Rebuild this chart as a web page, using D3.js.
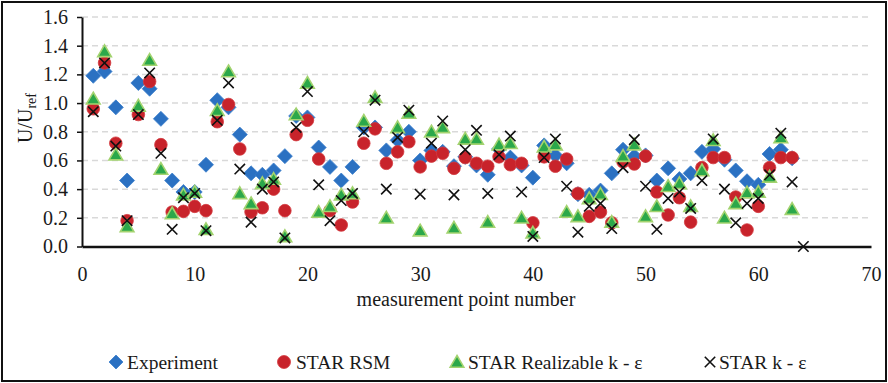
<!DOCTYPE html>
<html>
<head>
<meta charset="utf-8">
<script src="https://cdn.jsdelivr.net/npm/d3@7"></script>
<style>
  html, body { margin: 0; padding: 0; background: #fff; }
  svg { display: block; }
  svg text { font-family: "Liberation Serif", Tinos, "Times New Roman", Times, "DejaVu Serif", serif !important; fill: #1a1a1a; }
</style>
</head>
<body>
<svg id="chart" width="888" height="383"></svg>
<script>
// Measured velocity ratio U/Uref at each measurement point, and three CFD models
const experiment = [1.19,1.22,0.97,0.46,1.14,1.10,0.89,0.46,0.38,0.38,0.57,1.02,0.97,0.78,0.51,0.50,0.53,0.63,0.91,0.90,
  0.69,0.555,0.46,0.555,0.83,0.83,0.67,0.74,0.80,0.60,0.67,0.66,0.56,0.625,0.565,0.50,0.68,0.62,0.565,0.48,
  0.705,0.635,0.58,0.365,0.36,0.39,0.51,0.675,0.63,0.635,0.46,0.545,0.47,0.51,0.66,0.68,0.605,0.53,0.455,0.43,
  0.645,0.675,0.615];
const starRSM = [0.96,1.28,0.72,0.18,0.92,1.15,0.71,0.24,0.245,0.28,0.25,0.87,0.99,0.68,0.24,0.27,0.40,0.25,0.78,0.88,
  0.61,0.25,0.15,0.31,0.72,0.82,0.58,0.66,0.73,0.555,0.63,0.65,0.545,0.62,0.58,0.56,0.625,0.57,0.58,0.165,
  0.625,0.56,0.61,0.37,0.21,0.24,0.165,0.59,0.575,0.63,0.38,0.22,0.34,0.17,0.55,0.62,0.62,0.345,0.115,0.28,
  0.55,0.62,0.62];
const starRealizable = [1.03,1.36,0.64,0.14,0.98,1.30,0.54,0.23,0.36,0.38,0.12,0.95,1.22,0.37,0.30,0.44,0.47,0.07,0.92,1.14,
  0.24,0.28,0.36,0.37,0.875,1.04,0.20,0.83,0.93,0.11,0.80,0.83,0.13,0.75,0.75,0.17,0.71,0.72,0.20,0.095,
  0.695,0.71,0.24,0.21,0.335,0.365,0.17,0.63,0.71,0.21,0.28,0.42,0.44,0.28,0.53,0.74,0.20,0.30,0.375,0.38,
  0.485,0.76,0.26];
const starKEps = [0.94,1.28,0.70,0.18,0.92,1.21,0.65,0.12,0.34,0.37,0.11,0.88,1.14,0.54,0.17,0.40,0.45,0.06,0.83,1.08,
  0.43,0.18,0.32,0.37,0.80,1.02,0.40,0.76,0.95,0.365,0.72,0.875,0.36,0.675,0.81,0.37,0.64,0.77,0.38,0.07,
  0.62,0.75,0.42,0.10,0.28,0.30,0.125,0.55,0.745,0.42,0.12,0.335,0.38,0.265,0.46,0.75,0.40,0.165,0.30,0.335,
  0.50,0.79,0.45,0.00];

const seriesNames = ["Experiment", "STAR RSM", "STAR Realizable k - \u03B5", "STAR k - \u03B5"];
const xTicks = [0, 10, 20, 30, 40, 50, 60, 70];
const yTicks = [0, 0.2, 0.4, 0.6, 0.8, 1.0, 1.2, 1.4, 1.6];

const FONT = '"Liberation Serif", Tinos, "Times New Roman", Times, "DejaVu Serif", serif';
const svg = d3.select("#chart");
const W = 888, H = 383;
const plot = { left: 82, right: 871, top: 17, bottom: 246.5 };

const x = d3.scaleLinear().domain([0, 70]).range([plot.left, plot.right]);
const y = d3.scaleLinear().domain([0, 1.6]).range([plot.bottom, plot.top]);

// outer frame
svg.append("rect")
  .attr("x", 2).attr("y", 2).attr("width", W - 4).attr("height", H - 4)
  .attr("fill", "#fff").attr("stroke", "#111").attr("stroke-width", 2);

// horizontal dashed gridlines
svg.append("g").selectAll("line")
  .data(yTicks.filter(d => d > 0))
  .join("line")
  .attr("x1", plot.left).attr("x2", plot.right)
  .attr("y1", d => y(d)).attr("y2", d => y(d))
  .attr("stroke", "#d9d9d9").attr("stroke-width", 1.5)
  .attr("stroke-dasharray", "6,4");

// y axis
const yAxis = svg.append("g")
  .attr("transform", `translate(${plot.left},0)`)
  .call(d3.axisLeft(y).tickValues(yTicks).tickFormat(d3.format(".1f"))
    .tickSize(5).tickSizeOuter(0).tickPadding(9));
yAxis.attr("font-family", FONT).attr("font-size", 20);
yAxis.select(".domain").attr("stroke", "#111").attr("stroke-width", 2);
yAxis.selectAll(".tick line").attr("stroke", "#111").attr("stroke-width", 1.5);
yAxis.selectAll("text").style("font-family", FONT).style("font-size", "20px").attr("fill", "#1a1a1a");

// x axis
const xAxis = svg.append("g")
  .attr("transform", `translate(0,${plot.bottom})`)
  .call(d3.axisBottom(x).tickValues(xTicks).tickSize(0).tickSizeOuter(0).tickPadding(20));
xAxis.attr("font-family", FONT).attr("font-size", 20);
xAxis.select(".domain").attr("stroke", "#111").attr("stroke-width", 2.5);
xAxis.selectAll("text").style("font-family", FONT).style("font-size", "20px").attr("fill", "#1a1a1a");

// axis titles
svg.append("text")
  .attr("x", 466).attr("y", 306)
  .attr("text-anchor", "middle")
  .style("font-family", FONT).style("font-size", "20px")
  .text("measurement point number");

const yTitle = svg.append("text")
  .attr("transform", "translate(32,118) rotate(-90)")
  .attr("text-anchor", "middle")
  .style("font-family", FONT).style("font-size", "20px");
yTitle.append("tspan").text("U/U");
yTitle.append("tspan").style("font-size", "14px").attr("dy", 4).text("ref");

// marker drawing helpers
const diamond = (g, cx, cy, s) =>
  g.append("path").attr("d", `M${cx},${cy - s}L${cx + s},${cy}L${cx},${cy + s}L${cx - s},${cy}Z`)
    .attr("fill", "#2b71c2").attr("stroke", "#3b7fcc").attr("stroke-width", 0.8);
const circle = (g, cx, cy, r) =>
  g.append("circle").attr("cx", cx).attr("cy", cy).attr("r", r)
    .attr("fill", "#c8232b").attr("stroke", "#d33a3f").attr("stroke-width", 0.8);
const triangle = (g, cx, cy, s) =>
  g.append("path").attr("d", `M${cx},${cy - s}L${cx + s * 1.05},${cy + s * 0.8}L${cx - s * 1.05},${cy + s * 0.8}Z`)
    .attr("fill", "#2ba84a").attr("stroke", "#a3d36f").attr("stroke-width", 1.6)
    .attr("stroke-linejoin", "miter");
const cross = (g, cx, cy, s) =>
  g.append("path").attr("d", `M${cx - s},${cy - s}L${cx + s},${cy + s}M${cx - s},${cy + s}L${cx + s},${cy - s}`)
    .attr("stroke", "#111").attr("stroke-width", 1.6).attr("fill", "none");

const marks = svg.append("g");
const drawSeries = (values, fn, size) => {
  const g = marks.append("g");
  values.forEach((v, i) => fn(g, x(i + 1), y(v), size));
};
drawSeries(experiment, diamond, 7.5);
drawSeries(starRSM, circle, 6.3);
drawSeries(starRealizable, triangle, 6.5);
drawSeries(starKEps, cross, 5.2);

// legend
const legendY = 362;
const legend = svg.append("g");
const items = [
  { fn: diamond, size: 7, mx: 116, tx: 127 },
  { fn: circle, size: 6.5, mx: 284, tx: 296 },
  { fn: triangle, size: 6.5, mx: 457, tx: 468 },
  { fn: cross, size: 5.2, mx: 710, tx: 719 }
];
items.forEach((it, k) => {
  it.fn(legend, it.mx, legendY, it.size);
  legend.append("text")
    .attr("x", it.tx).attr("y", legendY + 6.5)
    .style("font-family", FONT).style("font-size", "19.5px")
    .text(seriesNames[k]);
});
</script>
</body>
</html>
